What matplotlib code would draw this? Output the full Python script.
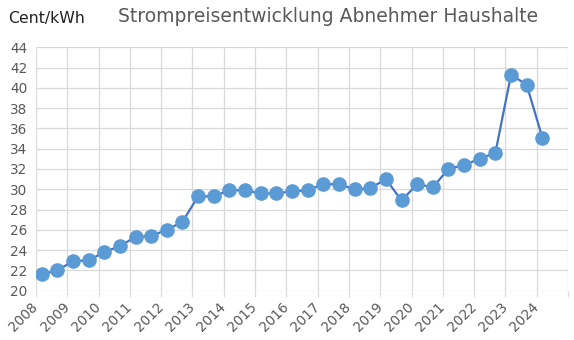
import numpy as np
import matplotlib.pyplot as plt

# Strompreise (Cent/kWh), halbjährlich 2008 - 2024
preise = [21.6, 22.0, 22.9, 23.0, 23.8, 24.4, 25.3, 25.4, 26.0, 26.8,
          29.3, 29.3, 29.9, 29.9, 29.6, 29.6, 29.8, 29.9, 30.5, 30.5,
          30.0, 30.1, 31.0, 28.9, 30.5, 30.2, 32.0, 32.4, 33.0, 33.6,
          41.3, 40.3, 35.1]
jahre = list(range(2008, 2025))

x = 2008.18 + 0.5 * np.arange(len(preise))

fig = plt.figure(figsize=(5.74, 3.4), dpi=100)
ax = fig.add_axes([36/574, 49.3/340, 532/574, 243.4/340])

ax.plot(x, preise, '-', color='#4472C4', lw=1.6, zorder=3)
ax.plot(x, preise, 'o', color='#5B9BD5', ms=9.5, mec='#5B9BD5', zorder=4)

ax.set_xlim(2008, 2025)
ax.set_ylim(20, 44)
ax.set_yticks(range(20, 45, 2))
ax.set_xticks(range(2008, 2026))
ax.set_xticklabels([str(j) for j in jahre] + [''], rotation=45,
                   ha='right', va='center', rotation_mode='anchor')

ax.grid(True, color='#D9D9D9', lw=0.9)
ax.set_axisbelow(True)
for s in ax.spines.values():
    s.set_visible(False)
ax.tick_params(axis='y', length=0, pad=6, labelsize=9.8, labelcolor='#595959')
ax.tick_params(axis='x', length=4, color='#D9D9D9', pad=6, labelsize=9.8,
               labelcolor='#595959')

fig.text(8/574, 1 - 19/340, 'Cent/kWh', fontsize=11.3, color='#222222', va='center')
fig.text(328/574, 1 - 16/340, 'Strompreisentwicklung Abnehmer Haushalte',
         fontsize=13.5, color='#595959', ha='center', va='center')

plt.savefig('out.png', dpi=100)
